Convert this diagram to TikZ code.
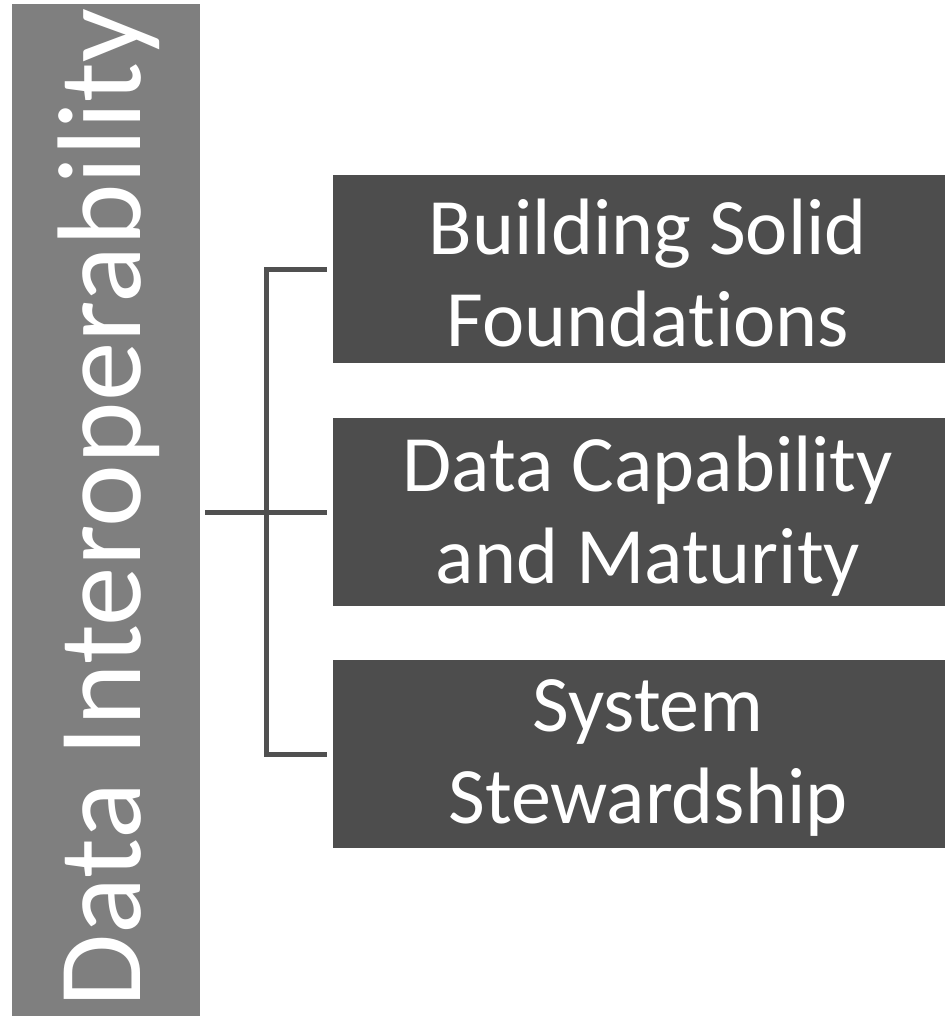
\documentclass[tikz,border=0pt]{standalone}
\usepackage{fontspec}
\setmainfont[Ligatures={NoCommon,NoRequired,NoContextual}]{Carlito}
\definecolor{barGray}{HTML}{7F7F7F}
\definecolor{boxGray}{HTML}{4D4D4D}
\definecolor{lineGray}{HTML}{505050}
\begin{document}
\begin{tikzpicture}[x=1pt,y=-1pt,
  barbox/.style={fill=barGray,draw=none,inner sep=0pt,minimum width=188pt,minimum height=1012pt,anchor=north west},
  itembox/.style={fill=boxGray,draw=none,inner sep=0pt,minimum width=612pt,minimum height=188pt},
  itemtext/.style={text=white,align=center,inner sep=0pt,font=\fontsize{80}{92}\selectfont},
  conn/.style={draw=lineGray,line width=5pt}]
\useasboundingbox (0,0) rectangle (945,1016);
\node[barbox] (bar) at (12,4) {};
\node[text=white,rotate=90,anchor=base,inner sep=0pt,font=\fontsize{119}{119}\selectfont] (bartext) at (140,508) {Data Interoperability};
\node[itembox] (b1) at (639,269) {};
\node[itembox] (b2) at (639,512) {};
\node[itembox] (b3) at (639,754) {};
\node[itemtext] (t1) at ([xshift=9pt,yshift=-4pt]b1.center) {Building Solid\\Foundations};
\node[itemtext] (t2) at ([xshift=9pt,yshift=-4pt]b2.center) {Data Capability\\and Maturity};
\node[itemtext] (t3) at ([xshift=9pt,yshift=-4pt]b3.center) {System\\Stewardship};
\coordinate (j) at (266,512);
\draw[conn] ([xshift=-6pt]b1.west) -| (j) |- ([xshift=-6pt]b3.west);
\draw[conn] ([xshift=5pt]bar.east |- j) -- ([xshift=-6pt]b2.west);
\end{tikzpicture}
\end{document}
